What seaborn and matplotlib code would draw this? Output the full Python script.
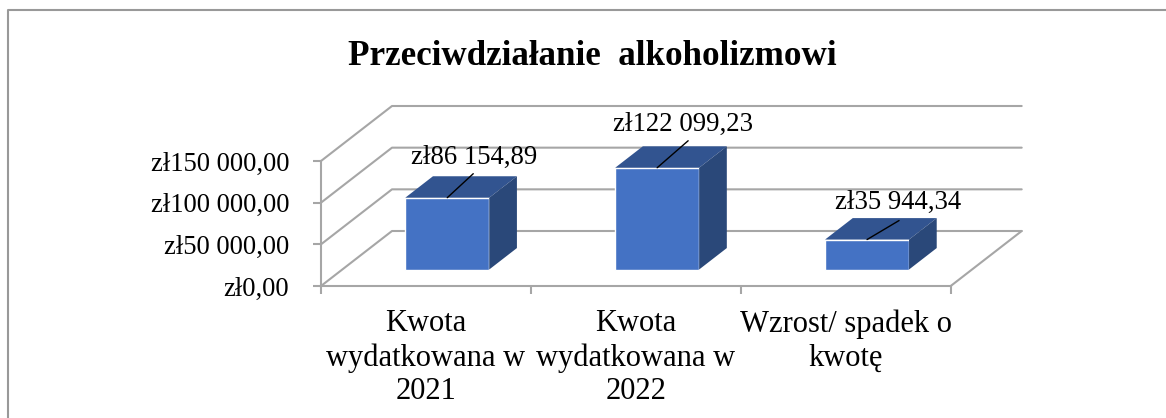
import matplotlib
matplotlib.use("Agg")
import matplotlib.pyplot as plt
import pandas as pd
import seaborn as sns
from matplotlib.patches import Polygon

kategorie = ["Kwota\nwydatkowana w\n2021", "Kwota\nwydatkowana w\n2022", "Wzrost/ spadek o\nkwotę"]
kwoty = [86154.89, 122099.23, 35944.34]
etykiety = ["zł86 154,89", "zł122 099,23", "zł35 944,34"]
y_ticki = [0, 50000, 100000, 150000]
y_etykiety = ["zł0,00", "zł50 000,00", "zł100 000,00", "zł150 000,00"]

SZER, WYS = 1166, 418
NIEBIESKI = "#4472c4"
GORA = "#325490"
BOK = "#2a4879"
SZARY = "#a6a6a6"
# przesuniecie glebi w jednostkach danych (71 px w prawo, 55 px w gore)
GLEBIA_X = 71 / 209.9
GLEBIA_Y = 55 / 125 * 150000
PRZOD, TYL = 0.30, 0.69
# polozenie etykiet wzgledem gornej krawedzi slupka, w pikselach
LINIE = [(26, 24), (31, 27), (32, 19)]
TEKSTY = [(27, 40), (26, 43), (31, 37)]

sns.set_theme(style="white")
plt.rcParams["font.family"] = ["Liberation Serif", "DejaVu Serif"]

df = pd.DataFrame({"kategoria": kategorie, "kwota": kwoty})

fig = plt.figure(figsize=(SZER / 100, WYS / 100), dpi=100)
ax = fig.add_axes([321 / SZER, 1 - 286 / WYS, 629.7 / SZER, 125 / WYS])
ax.patch.set_alpha(0)

sns.barplot(data=df, x="kategoria", y="kwota", color=NIEBIESKI, saturation=1, width=0.4, ax=ax, zorder=3)
ax.set_xlim(-0.5, 2.5)
ax.set_ylim(0, 150000)


def rzut(x, y, d):
    return (x + GLEBIA_X * d, y + GLEBIA_Y * d)


# sciany wykresu
for t in y_ticki:
    ax.plot(*zip(rzut(-0.5, t, 0), rzut(-0.5, t, 1), rzut(2.5, t, 1)), color=SZARY, lw=1.5, clip_on=False, zorder=1)
ax.plot(*zip(rzut(2.5, 0, 1), rzut(2.5, 0, 0)), color=SZARY, lw=1.5, clip_on=False, zorder=1)

# slupki 3D na podstawie slupkow seaborna
for i, p in enumerate(list(ax.patches)):
    x0 = p.get_x()
    x1 = x0 + p.get_width()
    h = p.get_height()
    p.set_xy(rzut(x0, 0, PRZOD))
    p.set_clip_on(False)
    gora = [rzut(x0, h, PRZOD), rzut(x1, h, PRZOD), rzut(x1, h, TYL), rzut(x0, h, TYL)]
    bok = [rzut(x1, 0, PRZOD), rzut(x1, 0, TYL), rzut(x1, h, TYL), rzut(x1, h, PRZOD)]
    ax.add_patch(Polygon(gora, closed=True, fc=GORA, ec="none", clip_on=False, zorder=3))
    ax.add_patch(Polygon(bok, closed=True, fc=BOK, ec="none", clip_on=False, zorder=3))

    xs = rzut((x0 + x1) / 2, h, PRZOD)
    ax.annotate("", xy=xs, xytext=LINIE[i], textcoords="offset pixels",
                arrowprops=dict(arrowstyle="-", color="black", lw=1, shrinkA=0, shrinkB=0), zorder=5)
    ax.annotate(etykiety[i], xy=xs, xytext=TEKSTY[i], textcoords="offset pixels",
                ha="center", va="center", fontsize=19.3, color="black", annotation_clip=False, zorder=6)

ax.set_xlabel("")
ax.set_ylabel("")
ax.set_yticks(y_ticki)
ax.set_yticklabels(y_etykiety)
ax.set_xticks([-0.5, 0.5, 1.5, 2.5], labels=[""] * 4)
ax.tick_params(axis="both", length=6, width=1.5, color=SZARY, left=True, bottom=True)
ax.tick_params(axis="y", labelsize=19.2, labelcolor="black", pad=17)
for s in ax.spines.values():
    s.set_visible(False)
for s in ["left", "bottom"]:
    ax.spines[s].set_visible(True)
    ax.spines[s].set_color(SZARY)
    ax.spines[s].set_linewidth(1.5)

for i, k in enumerate(kategorie):
    ax.text(i, -28000, k, ha="center", va="top", fontsize=22, color="black", linespacing=1.21, clip_on=False)

fig.text(592.5 / SZER, 1 - 56.5 / WYS, "Przeciwdziałanie  alkoholizmowi", ha="center", va="center",
         fontsize=25.2, fontweight="bold", color="black")

# ramka wykresu
fig.add_artist(plt.Line2D([7.5 / SZER, 7.5 / SZER, 1], [0, 1 - 9.5 / WYS, 1 - 9.5 / WYS],
                          color="#999999", lw=1.5))

fig.savefig("out.png", dpi=100)
